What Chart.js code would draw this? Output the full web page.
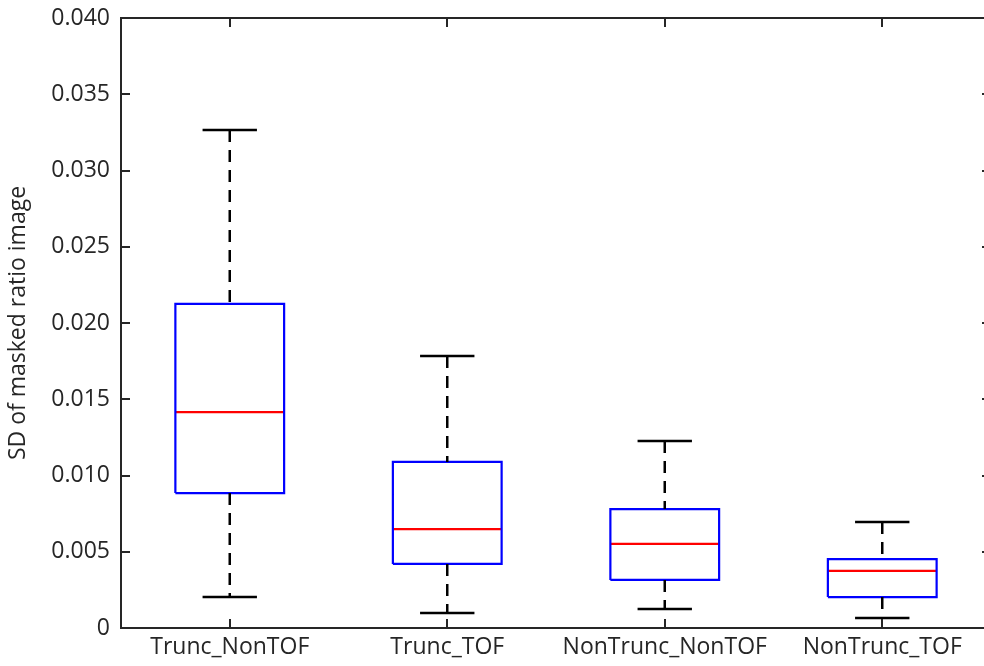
<!DOCTYPE html>
<html>
<head>
<meta charset="utf-8">
<script src="https://cdn.jsdelivr.net/npm/chart.js@4"></script>
<style>
  html, body { margin: 0; padding: 0; background: #fff; overflow: hidden; }
  #wrap { width: 984px; height: 666px; overflow: hidden; }
  canvas { display: block; }
</style>
</head>
<body>
<div id="wrap"><canvas id="box-chart" width="992" height="666"></canvas></div>
<script>
// data
const categories = ["Trunc_NonTOF", "Trunc_TOF", "NonTrunc_NonTOF", "NonTrunc_TOF"];
const whiskerLow = [0.00203, 0.00098, 0.00125, 0.00066];
const q1 = [0.00885, 0.0042, 0.00315, 0.00203];
const median = [0.01416, 0.00649, 0.00551, 0.00374];
const q3 = [0.02125, 0.01089, 0.0078, 0.00452];
const whiskerHigh = [0.03266, 0.01784, 0.01226, 0.00695];
const yTicks = [0, 0.005, 0.01, 0.015, 0.02, 0.025, 0.03, 0.035, 0.04];

const boxHalf = 0.25;
const capHalf = 0.125;
const axisColor = "#262626";
const fontFamily = "'Open Sans', sans-serif";

// build line pieces, a null point breaks the line
function pieces(fn) {
  const out = [];
  categories.forEach(function (c, i) {
    const x = i + 1;
    fn(x, i).forEach(function (seg) {
      seg.forEach(function (p) { out.push({ x: p[0], y: p[1] }); });
      out.push({ x: x, y: null });
    });
  });
  return out;
}

const whiskers = pieces(function (x, i) {
  return [[[x, whiskerHigh[i]], [x, q3[i]]], [[x, q1[i]], [x, whiskerLow[i]]]];
});
const caps = pieces(function (x, i) {
  return [[[x - capHalf, whiskerHigh[i]], [x + capHalf, whiskerHigh[i]]],
          [[x - capHalf, whiskerLow[i]], [x + capHalf, whiskerLow[i]]]];
});
const boxes = pieces(function (x, i) {
  return [[[x - boxHalf, q1[i]], [x + boxHalf, q1[i]], [x + boxHalf, q3[i]],
           [x - boxHalf, q3[i]], [x - boxHalf, q1[i]]]];
});
const medians = pieces(function (x, i) {
  return [[[x - boxHalf, median[i]], [x + boxHalf, median[i]]]];
});

function lineSet(data, color, width, dash) {
  return {
    data: data,
    showLine: true,
    spanGaps: false,
    borderColor: color,
    borderWidth: width,
    borderDash: dash || [],
    pointRadius: 0,
    fill: false,
    tension: 0,
  };
}

// inward ticks and frame like matlab
const frameTicks = {
  id: "frameTicks",
  afterDraw: function (chart) {
    const ctx = chart.ctx;
    const a = chart.chartArea;
    const xs = chart.scales.x;
    const ys = chart.scales.y;
    const len = 9;
    ctx.save();
    ctx.strokeStyle = axisColor;
    ctx.lineWidth = 2;
    ctx.beginPath();
    ys.ticks.forEach(function (t) {
      const y = Math.round(ys.getPixelForValue(t.value));
      ctx.moveTo(a.left, y);
      ctx.lineTo(a.left + len, y);
      ctx.moveTo(a.right, y);
      ctx.lineTo(a.right - len, y);
    });
    xs.ticks.forEach(function (t) {
      const x = Math.round(xs.getPixelForValue(t.value));
      ctx.moveTo(x, a.bottom);
      ctx.lineTo(x, a.bottom - len);
      ctx.moveTo(x, a.top);
      ctx.lineTo(x, a.top + len);
    });
    ctx.stroke();
    ctx.strokeRect(a.left, a.top, a.right - a.left, a.bottom - a.top);
    ctx.restore();
  },
};

new Chart(document.getElementById("box-chart"), {
  type: "scatter",
  data: {
    datasets: [
      lineSet(whiskers, "#000000", 2.5, [12, 8]),
      lineSet(caps, "#000000", 2.5),
      lineSet(boxes, "#0000ff", 2.2),
      lineSet(medians, "#ff0000", 2.2),
    ],
  },
  options: {
    responsive: false,
    animation: false,
    layout: { padding: { top: 18, right: 1, left: 0, bottom: 0 } },
    plugins: {
      legend: { display: false },
      tooltip: { enabled: false },
    },
    scales: {
      x: {
        type: "linear",
        min: 0.5,
        max: 4.5,
        grid: { display: false, drawTicks: false },
        border: { display: false },
        afterBuildTicks: function (scale) {
          scale.ticks = categories.map(function (c, i) { return { value: i + 1 }; });
        },
        afterFit: function (scale) {
          scale.height = 38;
          scale.paddingLeft = 0;
          scale.paddingRight = 0;
        },
        ticks: {
          color: axisColor,
          padding: 6,
          maxRotation: 0,
          font: { family: fontFamily, size: 23 },
          callback: function (v) { return categories[Math.round(v) - 1]; },
        },
      },
      y: {
        min: 0,
        max: 0.04,
        grid: { display: false, drawTicks: false },
        border: { display: false },
        afterBuildTicks: function (scale) {
          scale.ticks = yTicks.map(function (v) { return { value: v }; });
        },
        afterFit: function (scale) {
          scale.width = 121;
          scale.paddingTop = 0;
          scale.paddingBottom = 0;
        },
        title: {
          display: true,
          text: "SD of masked ratio image",
          color: axisColor,
          padding: { top: 5, bottom: 0 },
          font: { family: fontFamily, size: 23 },
        },
        ticks: {
          color: axisColor,
          padding: 11,
          font: { family: fontFamily, size: 23 },
          callback: function (v) { return v === 0 ? "0" : v.toFixed(3); },
        },
      },
    },
  },
  plugins: [frameTicks],
});
</script>
</body>
</html>
